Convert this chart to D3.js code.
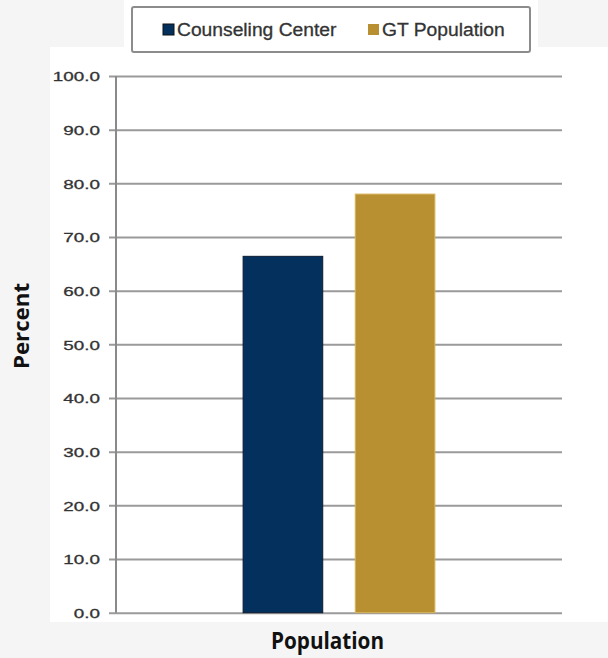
<!DOCTYPE html>
<html>
<head>
<meta charset="utf-8">
<script src="https://cdn.jsdelivr.net/npm/d3@7"></script>
<style>
  body { margin: 0; background: #f5f5f5; }
  svg { display: block; }
</style>
</head>
<body>
<div class="canvas"></div>
<script>
// data
const categories = ['Population'];
const seriesNames = ['Counseling Center', 'GT Population'];
const seriesValues = [66.4, 78.0];
const seriesColors = ['#04305d', '#b88f31'];
const yTicks = [0, 10, 20, 30, 40, 50, 60, 70, 80, 90, 100];

const width = 608, height = 658;
const margin = { left: 116, top: 76, right: 46, bottom: 45 };
const graphWidth = width - margin.left - margin.right;
const graphHeight = height - margin.top - margin.bottom - 0.3;

const svg = d3.select('.canvas').append('svg')
    .attr('width', width)
    .attr('height', height);

// white panel behind the chart
svg.append('rect')
    .attr('x', 50).attr('y', 47)
    .attr('width', width - 50).attr('height', 575)
    .attr('fill', '#fff');
svg.append('rect')
    .attr('x', 124).attr('y', 0)
    .attr('width', 414).attr('height', 60)
    .attr('fill', '#fff');

const graph = svg.append('g')
    .attr('transform', `translate(${margin.left},${margin.top})`);

// scales
const y = d3.scaleLinear()
    .domain([0, 100])
    .range([graphHeight, 0]);

const x0 = d3.scaleBand()
    .domain(categories)
    .range([0, graphWidth])
    .paddingInner(0.57)
    .paddingOuter(0.285);

const x1 = d3.scaleBand()
    .domain(seriesNames)
    .range([0, x0.bandwidth()])
    .paddingInner(0.29)
    .paddingOuter(0);

// y axis with gridlines
const yAxis = d3.axisLeft(y)
    .tickValues(yTicks)
    .tickSize(-graphWidth)
    .tickFormat(d => d.toFixed(1));

const yAxisGroup = graph.append('g').call(yAxis);
yAxisGroup.select('.domain').remove();
yAxisGroup.selectAll('.tick line')
    .attr('x1', -7)
    .attr('stroke', '#9a9a9a')
    .attr('stroke-width', 2);
// labels in the source are wide, so stretch them a bit
yAxisGroup.selectAll('.tick text')
    .attr('fill', '#333')
    .attr('stroke', '#333')
    .attr('stroke-width', 0.3)
    .attr('font-family', 'Liberation Sans, Arial, sans-serif')
    .attr('font-size', 13)
    .attr('x', 0)
    .attr('dy', '0.36em')
    .attr('transform', 'translate(-16,0) scale(1.45,1)');

// vertical axis line
graph.append('line')
    .attr('x1', 0).attr('x2', 0)
    .attr('y1', y(100)).attr('y2', y(0))
    .attr('stroke', '#8a8a8a')
    .attr('stroke-width', 2);

// bars
const groups = graph.selectAll('g.cat')
    .data(categories)
    .enter().append('g')
    .attr('class', 'cat')
    .attr('transform', d => `translate(${x0(d)},0)`);

groups.selectAll('rect')
    .data(seriesNames.map((s, i) => ({ name: s, value: seriesValues[i], color: seriesColors[i] })))
    .enter().append('rect')
    .attr('x', d => x1(d.name))
    .attr('y', d => y(d.value))
    .attr('width', x1.bandwidth())
    .attr('height', d => graphHeight - y(d.value))
    .attr('fill', d => d.color)
    .attr('stroke', (d, i) => i === 0 ? '#0b1b30' : '#d9b45a')
    .attr('stroke-width', 1);

// legend
const legend = svg.append('g');
legend.append('rect')
    .attr('x', 132).attr('y', 7)
    .attr('width', 398).attr('height', 45)
    .attr('rx', 2)
    .attr('fill', '#fff')
    .attr('stroke', '#8c8c8c')
    .attr('stroke-width', 2);

const legendX = [163, 368];
seriesNames.forEach((s, i) => {
    legend.append('rect')
        .attr('x', legendX[i]).attr('y', 24)
        .attr('width', 11).attr('height', 11)
        .attr('fill', seriesColors[i])
        .attr('stroke', i === 0 ? '#111' : 'none')
        .attr('stroke-width', 1);
    legend.append('text')
        .attr('transform', `translate(${legendX[i] + 14},36) scale(1.07,1)`)
        .attr('fill', '#333')
        .attr('stroke', '#333')
        .attr('stroke-width', 0.3)
        .attr('font-family', 'Liberation Sans, Arial, sans-serif')
        .attr('font-size', 18)
        .text(s);
});

// axis titles
svg.append('text')
    .attr('transform', 'translate(29,326) rotate(-90) scale(1.06,1)')
    .attr('text-anchor', 'middle')
    .attr('font-family', 'Open Sans, Noto Sans, sans-serif')
    .attr('font-weight', 'bold')
    .attr('font-size', 21)
    .attr('fill', '#111')
    .text('Percent');

svg.append('text')
    .attr('transform', 'translate(327.5,649) scale(0.9,1)')
    .attr('text-anchor', 'middle')
    .attr('font-family', 'Open Sans, Noto Sans, sans-serif')
    .attr('font-weight', 'bold')
    .attr('font-size', 23)
    .attr('fill', '#111')
    .text(categories[0]);
</script>
</body>
</html>
